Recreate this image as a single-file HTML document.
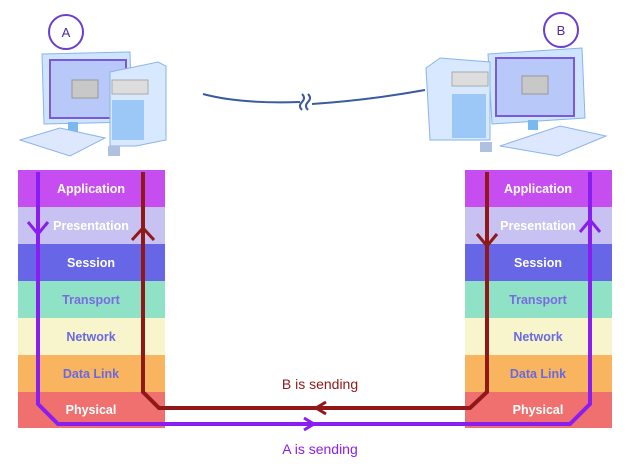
<!DOCTYPE html>
<html><head><style>
body{margin:0;background:#fff;}
svg{display:block}
text{font-family:"Liberation Sans",sans-serif;}
.l{font-weight:bold;font-size:12.5px;text-anchor:middle;}
</style></head><body>
<svg width="631" height="473" viewBox="0 0 631 473">
<!-- computer A -->
<g>
<circle cx="66" cy="32" r="17" fill="#fff" stroke="#6a3fd0" stroke-width="2"/>
<text x="66" y="37" font-size="13" text-anchor="middle" fill="#4a2aa0">A</text>
<polygon points="42,54 130,52 132,122 44,124" fill="#cfe4ff" stroke="#8ab4ea"/>
<rect x="50" y="60" width="76" height="58" fill="#b8c8f8" stroke="#7a5ad8" stroke-width="2"/>
<rect x="72" y="80" width="26" height="18" fill="#c8c8c8" stroke="#999"/>
<rect x="68" y="122" width="10" height="10" fill="#7ab8f0"/>
<polygon points="20,140 60,128 105,138 70,156" fill="#dde8ff" stroke="#8ab4ea"/>
<polygon points="110,72 158,62 166,66 166,140 136,146 110,146" fill="#d8e8ff" stroke="#8ab4ea"/>
<rect x="112" y="80" width="36" height="14" fill="#ddd" stroke="#aaa"/>
<rect x="112" y="100" width="32" height="40" fill="#9cc8f8"/>
<rect x="108" y="146" width="12" height="10" fill="#b0c0e0"/>
</g>
<!-- computer B -->
<g>
<circle cx="561" cy="30" r="17" fill="#fff" stroke="#6a3fd0" stroke-width="2"/>
<text x="561" y="35" font-size="13" text-anchor="middle" fill="#4a2aa0">B</text>
<polygon points="488,54 582,48 585,118 492,124" fill="#cfe4ff" stroke="#8ab4ea"/>
<rect x="496" y="58" width="78" height="58" fill="#b8c8f8" stroke="#7a5ad8" stroke-width="2"/>
<rect x="522" y="76" width="26" height="18" fill="#c8c8c8" stroke="#999"/>
<rect x="528" y="120" width="10" height="10" fill="#7ab8f0"/>
<polygon points="500,146 560,126 606,136 558,156" fill="#dde8ff" stroke="#8ab4ea"/>
<polygon points="426,68 440,58 490,62 490,140 430,140" fill="#d8e8ff" stroke="#8ab4ea"/>
<rect x="452" y="72" width="36" height="14" fill="#ddd" stroke="#aaa"/>
<rect x="452" y="94" width="34" height="44" fill="#9cc8f8"/>
<rect x="480" y="142" width="12" height="10" fill="#b0c0e0"/>
</g>
<!-- cable -->
<path d="M203,94 Q240,104 300,102 M312,104 Q370,100 425,90" fill="none" stroke="#3a5aa0" stroke-width="2"/>
<path d="M302,94 q4,4 0,8 q-4,4 0,8 M308,94 q4,4 0,8 q-4,4 0,8" fill="none" stroke="#3a5aa0" stroke-width="2"/>
<!-- stacks -->
<g id="st">
<rect x="18" y="170" width="147" height="37" fill="#c64ef0"/>
<rect x="18" y="207" width="147" height="37" fill="#c8c2f2"/>
<rect x="18" y="244" width="147" height="37" fill="#6666e6"/>
<rect x="18" y="281" width="147" height="37" fill="#8fe2c6"/>
<rect x="18" y="318" width="147" height="37" fill="#f8f4cc"/>
<rect x="18" y="355" width="147" height="37" fill="#f8b45e"/>
<rect x="18" y="392" width="147" height="36" fill="#f07070"/>
<text class="l" x="91" y="193" fill="#fff">Application</text>
<text class="l" x="91" y="230" fill="#fff">Presentation</text>
<text class="l" x="91" y="267" fill="#fff">Session</text>
<text class="l" x="91" y="304" fill="#7a6ae0">Transport</text>
<text class="l" x="91" y="341" fill="#6a6ae0">Network</text>
<text class="l" x="91" y="378" fill="#6a6ae0">Data Link</text>
<text class="l" x="91" y="414" fill="#fff">Physical</text>
</g>
<use href="#st" x="447"/>
<!-- purple path A sending -->
<path d="M38,172 L38,404 L58,424 L570,424 L590,404 L590,172" fill="none" stroke="#8a1ef0" stroke-width="4"/>
<path d="M28,222 L38,234 L48,222 M580,232 L590,220 L600,232 M304,418 L314,424 L304,430" fill="none" stroke="#8a1ef0" stroke-width="3"/>
<!-- red path B sending -->
<path d="M143,172 L143,392 L159,408 L470,408 L487,392 L487,172" fill="none" stroke="#901818" stroke-width="4"/>
<path d="M132,240 L143,228 L154,240 M477,234 L487,246 L497,234 M326,402 L316,408 L326,414" fill="none" stroke="#901818" stroke-width="3"/>
<text x="320" y="389" font-size="14" text-anchor="middle" fill="#901818">B is sending</text>
<text x="320" y="454" font-size="14" text-anchor="middle" fill="#8a1ef0">A is sending</text>
</svg>
</body></html>
